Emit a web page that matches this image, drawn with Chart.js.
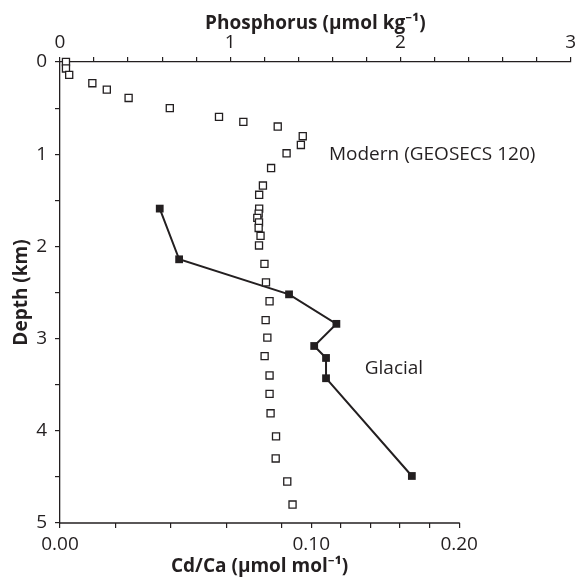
<!DOCTYPE html>
<html><head><meta charset="utf-8">
<script src="https://cdn.jsdelivr.net/npm/chart.js@4/dist/chart.umd.min.js"></script>
<style>html,body{margin:0;padding:0;background:#fff}canvas{display:block}</style>
</head><body>
<canvas id="c" width="577" height="577"></canvas>
<script>
// Modern profile (GEOSECS 120): phosphorus, top axis
const modernDepth = [0.00,0.07,0.14,0.23,0.30,0.39,0.50,0.595,0.65,0.70,0.805,0.90,0.99,1.15,1.34,1.44,1.59,1.645,1.69,1.74,1.80,1.885,1.99,2.19,2.39,2.595,2.80,2.99,3.19,3.40,3.60,3.81,4.06,4.30,4.55,4.80];
const modernPhosphorus = [0.035,0.035,0.054,0.19,0.275,0.403,0.645,0.934,1.077,1.279,1.426,1.415,1.331,1.240,1.192,1.170,1.170,1.167,1.159,1.169,1.167,1.178,1.169,1.201,1.210,1.231,1.208,1.218,1.202,1.231,1.231,1.237,1.269,1.267,1.335,1.366];
// Glacial profile: foraminiferal Cd/Ca, bottom axis
const glacialDepth = [1.59,2.14,2.52,2.84,3.08,3.21,3.43,4.49];
const glacialCdCa = [0.036,0.043,0.085,0.117,0.102,0.110,0.110,0.168];
// Axis ticks
const cdcaTicks = [0,0.02,0.04,0.06,0.08,0.10,0.12,0.14,0.16,0.18,0.20];
const cdcaLabelled = [0,0.10,0.20];
// Cd/Ca -> phosphorus-equivalent calibration (kinked), defines bottom axis
const cdKnots = [0,0.08,0.20];
const pKnots = [0,1.302,2.345];
const phosphorusMin = 0, phosphorusMax = 3;
const depthMin = 0, depthMax = 5;

const ink = '#231f20';
const fam = '"Open Sans", "Noto Sans", sans-serif';

function interp(v, xs, ys){
  let i = 0;
  if (v > xs[xs.length-1]) i = xs.length-2;
  else { while (i < xs.length-2 && v > xs[i+1]) i++; }
  return ys[i] + (v - xs[i]) * (ys[i+1]-ys[i]) / (xs[i+1]-xs[i]);
}
const cdToP = v => interp(v, cdKnots, pKnots);
const pToCd = p => interp(p, pKnots, cdKnots);

class CdCaScale extends Chart.LinearScale {
  buildTicks(){ return cdcaTicks.map(v => ({value: v})); }
  getPixelForValue(v){ return this.getPixelForDecimal((cdToP(v)-phosphorusMin)/(phosphorusMax-phosphorusMin)); }
  getValueForPixel(px){ return pToCd(phosphorusMin + this.getDecimalForPixel(px)*(phosphorusMax-phosphorusMin)); }
}
CdCaScale.id = 'cdca';
CdCaScale.defaults = Chart.LinearScale.defaults;
Chart.register(CdCaScale);

const isInt = v => Math.abs(v - Math.round(v)) < 1e-6;

const decor = {
  id: 'decor',
  afterDraw(chart){
    const ctx = chart.ctx, xs = chart.scales.x, x2 = chart.scales.x2, ys = chart.scales.y;
    const yb = chart.chartArea.bottom;
    const xa = xs.getPixelForValue(cdcaTicks[0]);
    const xb = xs.getPixelForValue(cdcaTicks[cdcaTicks.length-1]);
    ctx.save();
    ctx.strokeStyle = ink; ctx.lineWidth = 1.3;
    ctx.beginPath();
    ctx.moveTo(xa - 0.6, yb);
    ctx.lineTo(xb + 0.6, yb);
    ctx.stroke();
    ctx.fillStyle = ink;
    ctx.textBaseline = 'middle';
    ctx.textAlign = 'center';
    ctx.font = 'bold 19px ' + fam;
    ctx.fillText('Cd/Ca (µmol mol⁻¹)', (xa + xb) / 2, 567);
    ctx.font = '19px ' + fam;
    ctx.textAlign = 'left';
    ctx.fillText('Modern (GEOSECS 120)', x2.getPixelForValue(1.58), ys.getPixelForValue(1.0));
    ctx.fillText('Glacial', x2.getPixelForValue(1.79), ys.getPixelForValue(3.33));
    ctx.restore();
  }
};

new Chart(document.getElementById('c'), {
  type: 'scatter',
  data: {
    datasets: [
      {
        label: 'Modern (GEOSECS 120)',
        data: modernDepth.map((d,i) => ({x: modernPhosphorus[i], y: d})),
        xAxisID: 'x2', yAxisID: 'y',
        pointStyle: 'rect', pointRadius: 5, borderWidth: 1.3,
        borderColor: ink, backgroundColor: '#fff', showLine: false, clip: false
      },
      {
        label: 'Glacial',
        data: glacialDepth.map((d,i) => ({x: glacialCdCa[i], y: d})),
        xAxisID: 'x', yAxisID: 'y',
        pointStyle: 'rect', pointRadius: 5.5, pointBorderWidth: 0,
        pointBackgroundColor: ink, borderColor: ink, borderWidth: 2,
        showLine: true, tension: 0, clip: false
      }
    ]
  },
  options: {
    responsive: false, animation: false, events: [],
    devicePixelRatio: 1,
    layout: { padding: { left: 0, right: 1, top: 0, bottom: 0 } },
    plugins: { legend: { display: false }, tooltip: { enabled: false } },
    scales: {
      x: {
        type: 'cdca', position: 'bottom', min: 0, max: 0.2,
        grid: { drawOnChartArea: false, drawTicks: true, tickLength: 5, color: ink, lineWidth: 1.2 },
        border: { display: false },
        ticks: { autoSkip: false, maxRotation: 0, padding: 5, color: ink, font: { family: fam, size: 19 },
          callback: v => cdcaLabelled.some(l => Math.abs(l - v) < 1e-9) ? v.toFixed(2) : '' },
        title: { display: false },
        afterFit: s => { s.height = 54; s.paddingLeft = 0; s.paddingRight = 0; }
      },
      x2: {
        type: 'linear', position: 'top', min: phosphorusMin, max: phosphorusMax,
        grid: { drawOnChartArea: false, drawTicks: true, tickLength: 5, color: ink, lineWidth: 1.2 },
        border: { display: true, color: ink, width: 1.3 },
        ticks: { stepSize: 0.2, autoSkip: false, maxRotation: 0, padding: 3, color: ink, font: { family: fam, size: 19 },
          callback: v => isInt(v) ? String(Math.round(v)) : '' },
        title: { display: true, text: 'Phosphorus (µmol kg⁻¹)', color: ink, font: { family: fam, size: 19, weight: 'bold' }, padding: { top: 12, bottom: 0 } },
        afterFit: s => { s.height = 62; s.paddingLeft = 0; s.paddingRight = 0; }
      },
      y: {
        type: 'linear', position: 'left', reverse: true, min: depthMin, max: depthMax,
        grid: { drawOnChartArea: false, drawTicks: true, tickLength: 5, color: ink, lineWidth: 1.2 },
        border: { display: true, color: ink, width: 1.3 },
        ticks: { stepSize: 0.5, autoSkip: false, padding: 8, color: ink, font: { family: fam, size: 19 },
          callback: v => isInt(v) ? String(Math.round(v)) : '' },
        title: { display: true, text: 'Depth (km)', color: ink, font: { family: fam, size: 19, weight: 'bold' }, padding: { top: 10, bottom: 0 } },
        afterFit: s => { s.width = 60; s.paddingTop = 0; s.paddingBottom = 0; }
      }
    }
  },
  plugins: [decor]
});
</script>
</body></html>
